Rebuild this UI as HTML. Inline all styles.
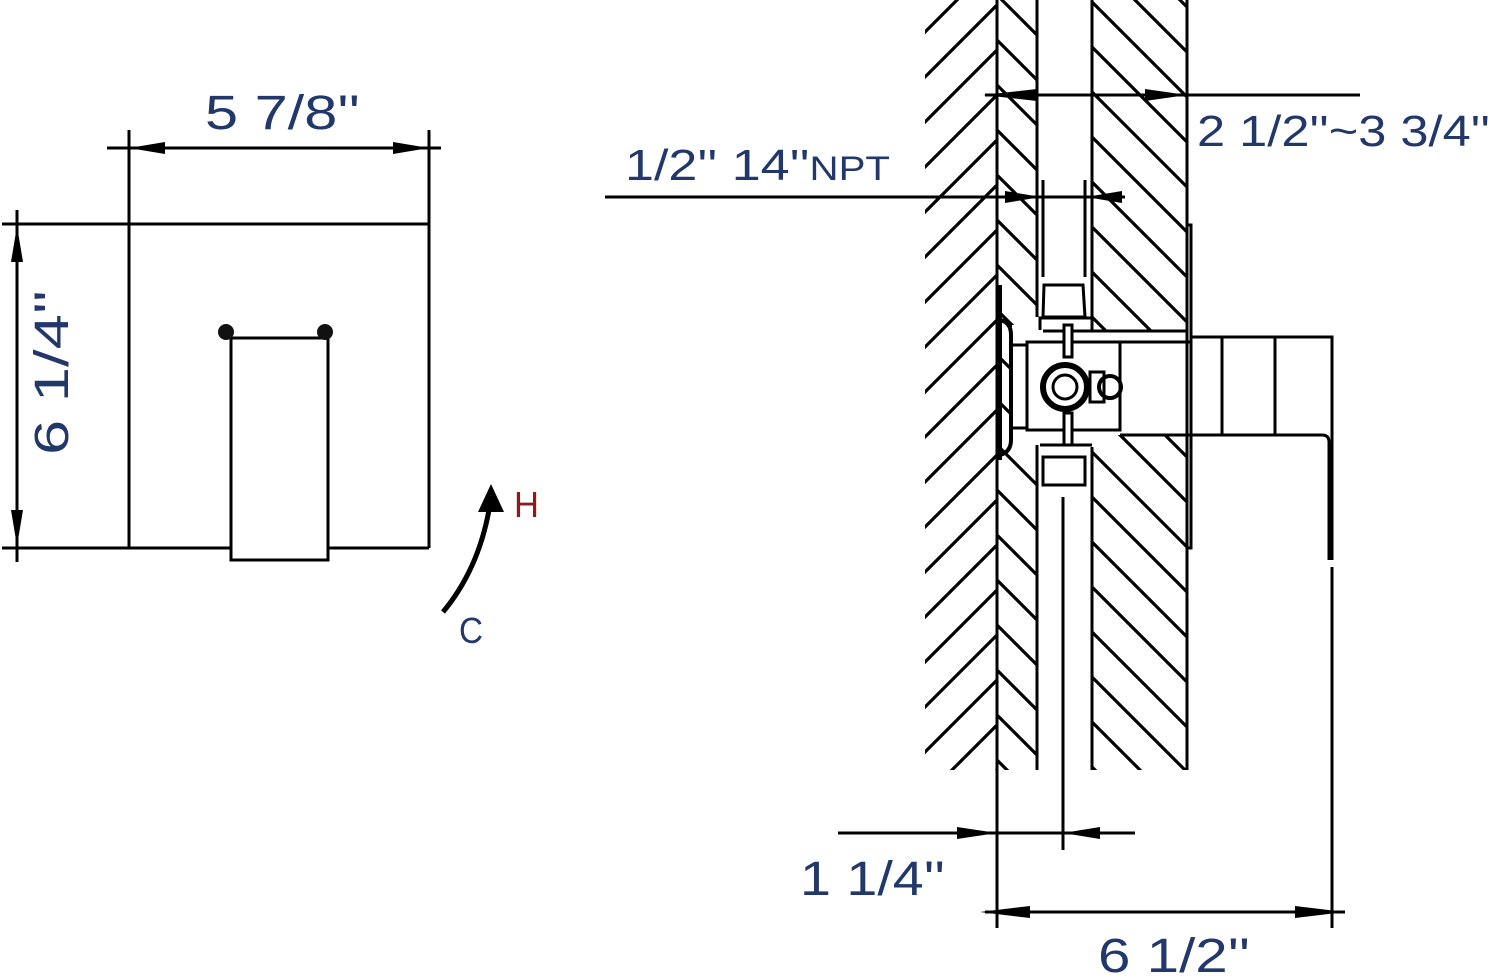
<!DOCTYPE html>
<html><head><meta charset="utf-8"><style>
html,body{margin:0;padding:0;background:#fff}
svg{display:block}
text{font-family:"Liberation Sans Narrow","Liberation Sans",sans-serif;fill:#22386b}
</style></head><body>
<svg width="1500" height="980" viewBox="0 0 1500 980" xmlns="http://www.w3.org/2000/svg">
<defs>
<pattern id="pf" patternUnits="userSpaceOnUse" x="0" y="12" width="45" height="45">
<path d="M-5 50L50 -5M-5 5L5 -5M40 50L50 40" stroke="#000" stroke-width="3.2"/>
</pattern>
<pattern id="pb1" patternUnits="userSpaceOnUse" x="0" y="33" width="45" height="45">
<path d="M-5 -5L50 50M-5 40L5 50M40 -5L50 5" stroke="#000" stroke-width="3.2"/>
</pattern>
<pattern id="pb2" patternUnits="userSpaceOnUse" x="0" y="35" width="45" height="45">
<path d="M-5 -5L50 50M-5 40L5 50M40 -5L50 5" stroke="#000" stroke-width="3.2"/>
</pattern>
<marker id="ar" viewBox="0 0 40 12" refX="40" refY="6" markerWidth="40" markerHeight="12" markerUnits="userSpaceOnUse" orient="auto">
<path d="M0 0L40 6L0 12Z" fill="#000"/>
</marker>
</defs>

<!-- LEFT VIEW -->
<g stroke="#000" stroke-width="3" fill="none">
<line x1="2" y1="224" x2="429" y2="224"/>
<line x1="2" y1="548" x2="429" y2="548"/>
<line x1="129" y1="130" x2="129" y2="548"/>
<line x1="429" y1="130" x2="429" y2="548"/>
<line x1="107" y1="148" x2="441" y2="148"/>
<path d="M129 148 L165 142 L165 154 Z" fill="#000" stroke="none"/>
<path d="M429 148 L393 142 L393 154 Z" fill="#000" stroke="none"/>
<line x1="17" y1="210" x2="17" y2="562"/>
<path d="M17 226 L11 262 L23 262 Z" fill="#000" stroke="none"/>
<path d="M17 546 L11 510 L23 510 Z" fill="#000" stroke="none"/>
<rect x="231" y="338" width="97" height="222" fill="#fff"/>
</g>
<circle cx="226" cy="332" r="8" fill="#111"/>
<circle cx="325" cy="332" r="8" fill="#111"/>
<path d="M443 612 Q478 570 489 510" stroke="#000" stroke-width="5" fill="none"/>
<path d="M491 484 L478 512 L504 512 Z" fill="#000"/>

<text x="205" y="129" font-size="48" textLength="155" lengthAdjust="spacingAndGlyphs">5 7/8''</text>
<text transform="translate(68 455) rotate(-90)" font-size="48" textLength="165" lengthAdjust="spacingAndGlyphs">6 1/4''</text>
<text x="514" y="517" font-size="36" style="fill:#8b1c1c" textLength="25" lengthAdjust="spacingAndGlyphs">H</text>
<text x="459" y="643" font-size="36" textLength="24" lengthAdjust="spacingAndGlyphs">C</text>

<!-- RIGHT VIEW hatching -->
<rect x="925" y="0" width="72" height="770" fill="url(#pf)"/>
<path d="M997 0H1037V325H1012V455H1037V770H997Z" fill="url(#pb1)"/>
<rect x="1092" y="0" width="95" height="330" fill="url(#pb2)"/>
<rect x="1092" y="435" width="95" height="335" fill="url(#pb2)"/>
<rect x="1085" y="440" width="7" height="20" fill="#fff"/>

<g stroke="#000" stroke-width="3" fill="none">
<line x1="997" y1="0" x2="997" y2="928"/>
<line x1="1037" y1="0" x2="1037" y2="317"/>
<line x1="1037" y1="445" x2="1037" y2="770"/>
<line x1="1092" y1="0" x2="1092" y2="330"/>
<line x1="1092" y1="447" x2="1092" y2="770"/>
<line x1="1187" y1="0" x2="1187" y2="770"/>
<line x1="1043" y1="180" x2="1043" y2="277"/>
<line x1="1085" y1="180" x2="1085" y2="277"/>
<line x1="1043" y1="331" x2="1187" y2="331"/>
<!-- cover plate -->
<path d="M1187 225H1191V548H1187"/>
<!-- handle -->
<path d="M1191 337H1332V560"/>
<line x1="1222" y1="337" x2="1222" y2="435"/>
<line x1="1275" y1="337" x2="1275" y2="435"/>
<path d="M1120 435H1322Q1329 435 1329 442V560"/>
<line x1="1332" y1="567" x2="1332" y2="928"/>
<!-- valve body -->
<rect x="1027" y="342" width="93" height="88"/>
<line x1="1120" y1="342" x2="1191" y2="342"/>
<rect x="1011" y="345" width="16" height="83"/>
<path d="M1000 320Q1011 322 1011 335V440Q1011 452 1000 455" stroke-width="4"/>
<line x1="1000" y1="285" x2="1000" y2="460" stroke-width="4"/>
<!-- top fitting -->
<path d="M1044 285H1083L1085 317H1043Z"/>
<path d="M1040 330V318H1092V330"/>
<!-- bottom fitting -->
<path d="M1043 457H1085V485H1043Z"/>
<line x1="1040" y1="445" x2="1092" y2="445"/>
<rect x="1064" y="325" width="8" height="32" fill="#fff"/>
<rect x="1064" y="413" width="8" height="32" fill="#fff"/>
<!-- nut -->
<circle cx="1065" cy="387" r="22" stroke-width="6"/>
<circle cx="1065" cy="387" r="12"/>
<rect x="1090" y="372" width="14" height="30"/>
<circle cx="1110" cy="387" r="11" stroke-width="4"/>
<line x1="1063" y1="497" x2="1063" y2="850"/>

<!-- dimension lines -->
<line x1="985" y1="95" x2="1360" y2="95"/>
<line x1="605" y1="197" x2="1125" y2="197"/>
<line x1="1043" y1="182" x2="1043" y2="205"/>
<line x1="1085" y1="182" x2="1085" y2="205"/>
<line x1="838" y1="833" x2="1135" y2="833"/>
<line x1="985" y1="912" x2="1345" y2="912"/>
</g>
<g fill="#000">
<path d="M983 95 L1037 89 L1037 101 Z"/>
<path d="M1187 95 L1145 89 L1145 101 Z"/>
<path d="M1041 197 L1005 191 L1005 203 Z"/>
<path d="M1086 197 L1122 191 L1122 203 Z"/>
<path d="M997 833 L957 827 L957 839 Z"/>
<path d="M1063 833 L1100 827 L1100 839 Z"/>
<path d="M980 912 L1030 906 L1030 918 Z"/>
<path d="M1345 912 L1295 906 L1295 918 Z"/>
</g>

<text x="1197" y="146" font-size="44" textLength="293" lengthAdjust="spacingAndGlyphs">2 1/2''~3 3/4''</text>
<text x="625" y="180" font-size="44" textLength="265" lengthAdjust="spacingAndGlyphs">1/2''  14''<tspan font-size="34">NPT</tspan></text>
<text x="800" y="895" font-size="48" textLength="145" lengthAdjust="spacingAndGlyphs">1 1/4''</text>
<text x="1098" y="972" font-size="48" textLength="152" lengthAdjust="spacingAndGlyphs">6 1/2''</text>
</svg>
</body></html>
